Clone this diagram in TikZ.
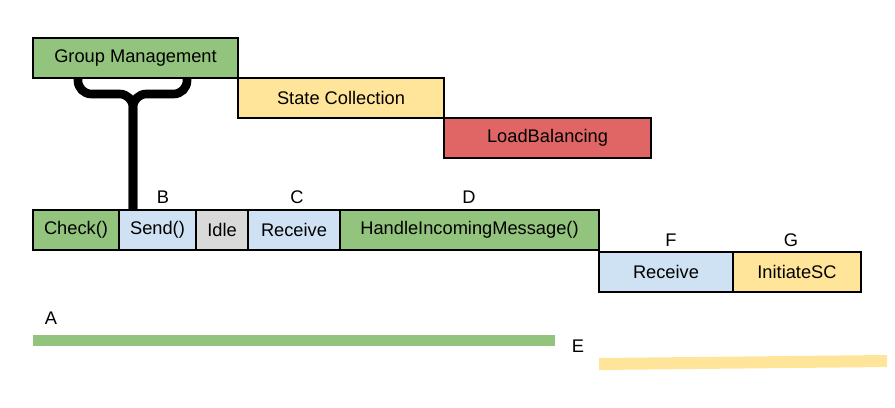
\documentclass[tikz,border=0pt]{standalone}
\usepackage{fontspec}
\setmainfont{Liberation Sans}
\usetikzlibrary{positioning,calc}
\definecolor{gmblock}{RGB}{147,196,125}
\definecolor{comblock}{RGB}{207,226,243}
\definecolor{idleblock}{RGB}{217,217,217}
\definecolor{scblock}{RGB}{255,229,153}
\definecolor{lbblock}{RGB}{224,102,102}
\def\px{0.75pt}

\begin{document}
\begin{tikzpicture}[x=\px, y=-\px,
	blk/.style={draw=black, line width=1.1pt, inner sep=0pt, outer sep=0pt,
		minimum height=40*\px, font=\fontsize{13.7}{15}\selectfont},
	lbl/.style={font=\fontsize{13.7}{15}\selectfont},
	brace/.style={line width=6.5pt, rounded corners=10pt}]
				\useasboundingbox (0,0) rectangle (895,407);

				% Phases
				\node[blk, fill=gmblock, minimum width=205*\px, anchor=north west] (gm) at (33,38) {Group Management};
				\node[blk, fill=scblock, minimum width=206*\px, below right=0pt of gm] (sc) {State Collection};
				\node[blk, fill=lbblock, minimum width=207*\px, below right=0pt of sc] (lb) {LoadBalancing};

				% Main loop
				\node[blk, fill=gmblock, minimum width=86*\px, anchor=north west] (check) at (33,210) {Check()};
				\node[blk, fill=comblock, minimum width=77*\px, right=0pt of check] (send) {Send()};
				\node[blk, fill=idleblock, minimum width=52*\px, right=0pt of send] (idle) {Idle};
				\node[blk, fill=comblock, minimum width=92*\px, right=0pt of idle] (recv) {Receive};
				\node[blk, fill=gmblock, minimum width=259*\px, right=0pt of recv] (handle) {HandleIncomingMessage()};
				\node[blk, fill=comblock, minimum width=134*\px, below right=2*\px and 0pt of handle] (recvf) {Receive};
				\node[blk, fill=scblock, minimum width=128*\px, right=0pt of recvf] (initsc) {InitiateSC};

				% Brace from Group Management down to Send()
				\coordinate (stem) at ($(send.north west)+(14,0)$);
				\draw[brace] ($(gm.south)+(-57.5,0)$) -- ++(0,16) -| (stem);
				\draw[brace] ($(gm.south)+(51.5,0)$) -- ++(0,16) -| (stem);

				% Letters
				\node[lbl] (lbla) at (51,318) {A};
				\node[lbl] (lblb) at (163,197) {B};
				\node[lbl] (lblc) at (297,197) {C};
				\node[lbl] (lbld) at (469,197) {D};
				\node[lbl] (lble) at (578,346) {E};
				\node[lbl] (lblf) at (671,240) {F};
				\node[lbl] (lblg) at (791,240) {G};

				% Bars
				\fill[gmblock] (33,335) rectangle (555,346);
				\fill[scblock] (599,358) -- (887,355) -- (887,367) -- (599,370) -- cycle;
\end{tikzpicture}
\end{document}
